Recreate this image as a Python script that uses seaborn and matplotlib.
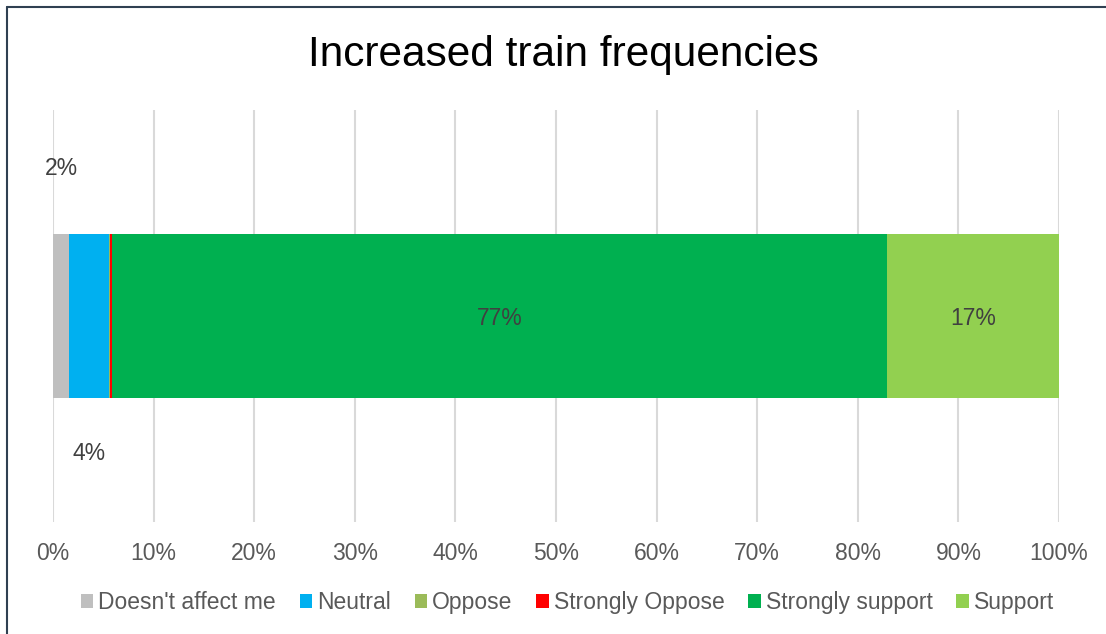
import numpy as np
import pandas as pd
import seaborn as sns
import matplotlib
matplotlib.use("Agg")
import matplotlib.pyplot as plt
from matplotlib.lines import Line2D
from matplotlib.patches import Patch

# data (share of responses, %)
categories = ["Doesn't affect me", "Neutral", "Oppose", "Strongly Oppose",
              "Strongly support", "Support"]
shares = [1.6, 4.0, 0.1, 0.2, 77.0, 17.1]
colors = ["#BFBFBF", "#00B0F0", "#9BBB59", "#FF0000", "#00B050", "#92D050"]
question = "Increased train frequencies"

sns.set_style("white")
plt.rcParams["font.family"] = ["Liberation Sans", "DejaVu Sans"]

fig = plt.figure(figsize=(11.06, 6.34), dpi=100)
ax = fig.add_axes([0.0479, 0.1767, 0.9096, 0.6498])

# stacked bar: draw cumulative totals from the outside in
df = pd.DataFrame({"q": [question] * len(shares), "cat": categories,
                   "val": shares})
df["cum"] = df["val"].cumsum()
for i in range(len(df) - 1, -1, -1):
    sns.barplot(data=df.iloc[[i]], x="cum", y="q", color=colors[i],
                width=0.4, saturation=1, linewidth=0, edgecolor="none",
                ax=ax, zorder=3)

# labels
lab_col = "#404040"
left = 0
for v in shares:
    xc = left + v / 2
    left += v
    txt = f"{v:.0f}%"
    if v >= 10:
        ax.annotate(txt, (xc, 0), xytext=(0, -2), textcoords="offset points",
                    ha="center", va="center", fontsize=16.5, color=lab_col, zorder=5)
    elif v >= 1.5:
        if v < 3:
            ax.annotate(txt, (xc, -0.2), xytext=(0, 47), textcoords="offset points",
                        ha="center", va="center", fontsize=16.5, color=lab_col)
        else:
            ax.annotate(txt, (xc, 0.2), xytext=(0, -40), textcoords="offset points",
                        ha="center", va="center", fontsize=16.5, color=lab_col)

ax.set_xlim(0, 100)
ax.set_ylim(0.5, -0.5)
ax.set_xticks(np.arange(0, 101, 10))
ax.set_xticklabels([f"{t}%" for t in range(0, 101, 10)])
ax.set_yticks([])
ax.set_xlabel("")
ax.set_ylabel("")
ax.grid(axis="x", color="#D9D9D9", linewidth=1.5, zorder=0)
ax.set_axisbelow(True)
for s in ax.spines.values():
    s.set_visible(False)
ax.tick_params(axis="x", length=0, pad=14.5, labelsize=16.5, labelcolor="#595959")

fig.text(0.509, 0.913, question, ha="center", va="center", fontsize=30.5, color="#000000")

handles = [Patch(facecolor=c, edgecolor="none") for c in colors]
fig.legend(handles, categories, loc="center", bbox_to_anchor=(0.513, 0.05), ncol=6,
           frameon=False, fontsize=16.5, labelcolor="#595959", handlelength=0.55,
           handleheight=0.55, handletextpad=0.2, columnspacing=1.05)

# chart frame (only top and left edges are inside the crop)
fig.add_artist(Line2D([6.5 / 1106, 6.5 / 1106], [0, 1 - 7 / 634], transform=fig.transFigure,
                      color="#2F4052", linewidth=1.5))
fig.add_artist(Line2D([6.5 / 1106, 1], [1 - 7 / 634, 1 - 7 / 634], transform=fig.transFigure,
                      color="#2F4052", linewidth=1.5))

fig.savefig("out.png", dpi=100)
